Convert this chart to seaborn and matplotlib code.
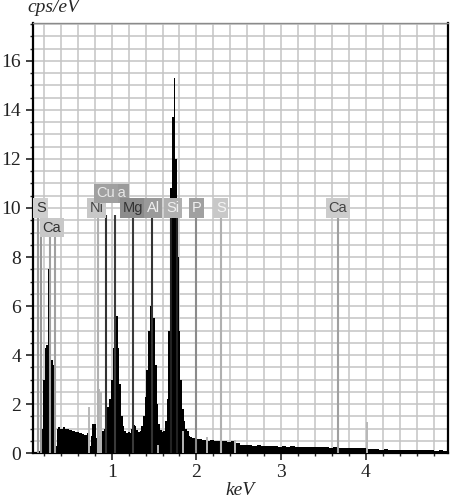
import numpy as np
import pandas as pd
import matplotlib.pyplot as plt
import seaborn as sns
from matplotlib.ticker import MultipleLocator

# EDS spectrum, 0.02 keV channels from 0.10 to 2.00 keV
low_start, low_step = 0.10, 0.02
low_counts = [
    0.0, 0.0, 0.1, 0.3, 1.0, 3.0, 4.3, 4.4, 7.5, 3.8,
    3.8, 3.6, 0.3, 1.0, 1.05, 1.0, 1.0, 1.05, 1.0, 0.98,
    0.95, 0.95, 0.92, 0.9, 0.88, 0.85, 0.82, 0.8, 0.78, 0.75,
    0.72, 0.8, 0.3, 0.7, 1.2, 1.2, 0.6, 0.8, 0.7, 0.9,
    0.9, 1.0, 1.5, 1.9, 2.2, 3.0, 4.3, 6.1, 5.6, 4.3,
    2.8, 1.5, 1.1, 0.9, 0.8, 0.85, 0.8, 1.0, 1.15, 1.1,
    0.95, 0.85, 0.9, 1.1, 1.5, 2.3, 3.4, 5.0, 6.0, 6.5,
    5.5, 3.6, 2.0, 1.2, 0.95, 0.85, 0.9, 1.3, 2.2, 5.0,
    10.8, 13.7, 15.3, 12.0, 8.0, 5.0, 3.0, 1.8, 1.3, 1.0,
    0.9, 0.7, 0.65, 0.6, 0.62, 0.58,
]

# coarser 0.05 keV channels above 2 keV
high_start, high_step = 2.035, 0.05
high_counts = [
    0.58, 0.55, 0.5, 0.55, 0.5, 0.48, 0.5, 0.45, 0.48, 0.42,
    0.35, 0.32, 0.33, 0.3, 0.32, 0.28, 0.3, 0.27, 0.28, 0.26,
    0.27, 0.25, 0.27, 0.24, 0.26, 0.25, 0.23, 0.25, 0.24, 0.23,
    0.24, 0.22, 0.23, 0.21, 0.22, 0.21, 0.2, 0.21, 0.19, 0.2,
    0.15, 0.16, 0.15, 0.14, 0.15, 0.14, 0.13, 0.14, 0.13, 0.12,
    0.13, 0.12, 0.12, 0.11, 0.12, 0.11, 0.1, 0.11, 0.1, 0.1,
]

# labelled element lines: name, label position, line energies, line top
el_names = ['S', 'Ca', 'Ni', 'Na', 'Cu', 'Mg', 'Al', 'Si', 'P', 'S', 'Ca']
el_label_x = [0.165, 0.29, 0.82, 1.06, 0.93, 1.25, 1.49, 1.725, 2.0, 2.29, 3.67]
el_label_y = [10.0, 9.2, 10.0, 10.6, 10.6, 10.0, 10.0, 10.0, 10.0, 10.0, 10.0]
el_lines = [[0.13, 0.165], [0.27, 0.325], [0.835], [1.04], [0.93], [1.25],
            [1.48], [1.70, 1.765], [2.0], [2.29], [3.67]]
el_line_top = [9.7, 9.0, 9.7, 9.7, 9.7, 9.7, 9.7, 9.7, 9.7, 9.7, 9.7]
el_line_color = ['#999999', '#a0a0a0', '#b0b0b0', '#3a3a3a', '#333333', '#3a3a3a',
                 '#333333', '#222222', '#8a8a8a', '#b0b0b0', '#a0a0a0']
el_box_color = ['#cfcfcf', '#c8c8c8', '#c8c8c8', '#9a9a9a', '#a0a0a0', '#8c8c8c',
                '#9a9a9a', '#b0b0b0', '#a0a0a0', '#c8c8c8', '#cccccc']
el_text_color = ['#333333', '#333333', '#444444', '#e8e8e8', '#e8e8e8', '#333333',
                 '#f0f0f0', '#f0f0f0', '#f0f0f0', '#f5f5f5', '#444444']

# short unlabelled lines
minor_line_x = [0.73, 0.85, 0.87, 1.55, 1.84, 2.12, 2.46, 4.01]
minor_line_h = [1.9, 2.6, 2.5, 0.35, 0.9, 0.65, 0.55, 1.27]

sns.set_style('white')
plt.rcParams['font.family'] = ['Liberation Serif', 'DejaVu Serif']

low_e = low_start + low_step * np.arange(len(low_counts))
high_e = high_start + high_step * np.arange(len(high_counts))
spec = pd.DataFrame({
    'keV': np.concatenate([low_e, high_e]),
    'cps': np.concatenate([low_counts, high_counts]),
})
edges = np.concatenate([low_e - low_step / 2, [low_e[-1] + low_step / 2],
                        high_e[1:] - high_step / 2, [high_e[-1] + high_step / 2]])

fig = plt.figure(figsize=(4.64, 4.99), dpi=100)
ax = fig.add_axes([0.071, 0.092, 0.8945, 0.862])

sns.histplot(data=spec, x='keV', weights='cps', bins=list(edges), element='step',
             fill=True, color='black', alpha=1, linewidth=0, ax=ax, zorder=3)

ax.set_xlim(0.07, 4.97)
ax.set_ylim(0, 17.55)
ax.xaxis.set_major_locator(MultipleLocator(1))
ax.xaxis.set_minor_locator(MultipleLocator(0.2))
ax.yaxis.set_major_locator(MultipleLocator(2))
ax.yaxis.set_minor_locator(MultipleLocator(0.5))
ax.grid(True, which='both', color='#c4c4c4', linewidth=1.1)
ax.set_axisbelow(True)

ax.vlines(minor_line_x, 0, minor_line_h, colors='#b8b8b8', linewidth=1.4, zorder=4)

for i, name in enumerate(el_names):
    ax.vlines(el_lines[i], 0, el_line_top[i], colors=el_line_color[i],
              linewidth=1.5, zorder=4)
    ax.text(el_label_x[i], el_label_y[i], name, ha='center', va='center',
            fontsize=10.5, family=['Liberation Sans', 'DejaVu Sans'],
            color=el_text_color[i], zorder=6,
            bbox=dict(boxstyle='square,pad=0.18', fc=el_box_color[i], ec='none'))

ax.set_yticks(range(0, 17, 2))
ax.tick_params(axis='both', which='major', direction='out', length=5, width=1.2,
               labelsize=14, colors='#222222')
ax.tick_params(axis='both', which='minor', direction='out', length=2.5, width=1)
ax.tick_params(axis='x', which='both', bottom=True, pad=3)
ax.tick_params(axis='y', which='both', left=True, pad=3.5)

for side in ['left', 'bottom', 'right']:
    ax.spines[side].set_color('black')
    ax.spines[side].set_linewidth(1.6)
ax.spines['top'].set_color('#8a8a8a')
ax.spines['top'].set_linewidth(1.0)

ax.set_xlabel('')
ax.set_ylabel('')
fig.text(0.517, 0.018, 'keV', fontsize=14, style='italic', ha='center', va='center')
fig.text(0.06, 0.984, 'cps/eV', fontsize=14, style='italic', ha='left', va='center')

fig.savefig('out.png', dpi=100)
